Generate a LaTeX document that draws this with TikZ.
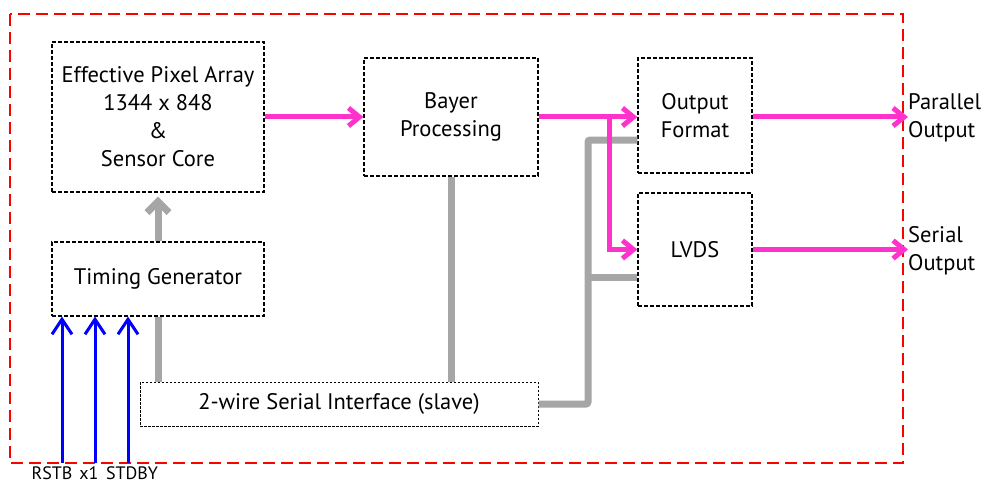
\documentclass[tikz,border=0pt]{standalone}
\usepackage{fontspec}
\setmainfont{PT Sans}
\usetikzlibrary{arrows.meta}

\definecolor{rosa}{RGB}{255,51,204}
\definecolor{cinza}{RGB}{166,166,166}
\definecolor{azul}{RGB}{0,0,255}
\definecolor{vermelho}{RGB}{255,0,0}

\begin{document}
\begin{tikzpicture}[x=1pt, y=-1pt,
    bloco/.style={draw, dash pattern=on 4pt off 2pt, line width=1.2pt, align=center,
        inner sep=0pt, font=\fontsize{22.5}{28}\selectfont},
    sinal/.style={rosa, line width=5pt, -{Straight Barb[length=11pt, width=18pt]}},
    barra/.style={cinza, line width=7pt, rounded corners=2pt},
    entrada/.style={azul, line width=3pt, -{Straight Barb[length=15pt, width=20pt]}},
    rotulo/.style={inner sep=0pt, font=\fontsize{18}{20}\selectfont}]
        \useasboundingbox (0,0) rectangle (987,484);
        % Moldura do chip
        \draw[vermelho, line width=2.8pt, dash pattern=on 12pt off 6pt] (10,14) rectangle (903,463);

        \node[bloco, minimum width=212, minimum height=150] (pixel) at (158,117)
            {Effective Pixel Array\\1344 x 848\\\&\\Sensor Core};
        \node[bloco, minimum width=212, minimum height=74] (timing) at (158,279) {Timing Generator};
        \node[bloco, minimum width=174, minimum height=118] (bayer) at (451,117) {Bayer\\Processing};
        \node[bloco, minimum width=114, minimum height=115] (saida) at (695,115.5) {Output\\Format};
        \node[bloco, minimum width=114, minimum height=113] (lvds) at (695,249.5) {LVDS};
        \node[bloco, dash pattern=on 2.5pt off 1.5pt, line width=1pt, minimum width=398, minimum height=44]
            (serial) at (339,404) {2-wire Serial Interface (slave)};

        \node[rotulo, anchor=west, align=left, font=\fontsize{22.5}{28}\selectfont] (par) at (908,118) {Parallel\\Output};
        \node[rotulo, anchor=west, align=left, font=\fontsize{22.5}{28}\selectfont] (ser) at (908,251) {Serial\\Output};
        \node[rotulo] (rstb) at (52,473.5) {RSTB};
        \node[rotulo] (xum) at (89,473.5) {x1};
        \node[rotulo] (stdby) at (132,473.5) {STDBY};

        \coordinate (j1) at (588,140);
        \coordinate (j2) at (588,277);
        \coordinate (j3) at (609,117);
        \coordinate (b1) at (62,463);
        \coordinate (b2) at (95,463);
        \coordinate (b3) at (128,463);

        % Barramento de controle
        \draw[barra] (timing.south) -- (timing.south |- serial.north);
        \draw[barra] (bayer.south) -- (bayer.south |- serial.north);
        \draw[barra] (serial.east) -| (j1) -- (j1 -| saida.west);
        \draw[barra] (j2) -- (j2 -| lvds.west);
        \draw[cinza, line width=7pt, -{Straight Barb[length=11pt, width=22pt]}, shorten >=4pt]
            (timing.north) -- (pixel.south);

        % Caminho dos dados
        \draw[sinal] (pixel.east) -- (bayer.west);
        \draw[sinal] (bayer.east) -- (bayer.east -| saida.west);
        \draw[sinal] (j3) |- (lvds.west);
        \draw[sinal] (saida.east |- j3) -- (j3 -| par.west);
        \draw[sinal] (lvds.east) -- (lvds.east -| ser.west);

        \draw[entrada] (b1) -- (b1 |- timing.south);
        \draw[entrada] (b2) -- (b2 |- timing.south);
        \draw[entrada] (b3) -- (b3 |- timing.south);
    \end{tikzpicture}
\end{document}
